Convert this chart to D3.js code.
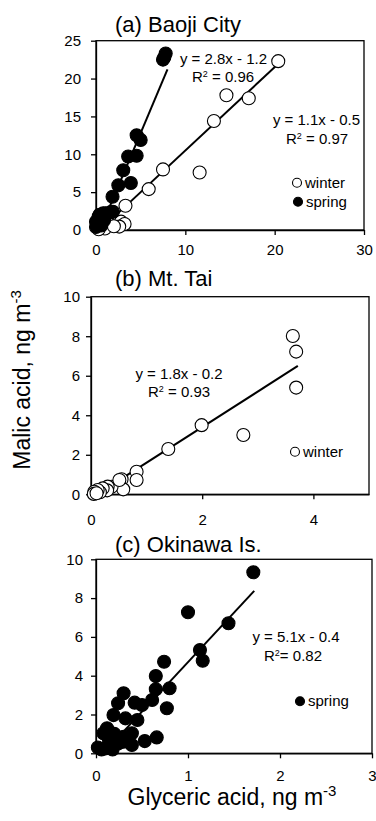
<!DOCTYPE html>
<meta charset="utf-8">
<style>
body { margin: 0; background: #fff; }
svg { font-family: "Liberation Sans", Arial, sans-serif; }
.axis path, .axis line { stroke: #000; stroke-width: 1.3; }
.axis text { font-size: 15px; fill: #000; }
.frame { fill: none; stroke: #000; stroke-width: 1.3; }
.title { font-size: 22px; }
.note { font-size: 15px; }
.fit { stroke: #000; stroke-width: 2; }
</style>
<div id="chart"></div>
<script src="https://d3js.org/d3.v7.min.js"></script>
<script>
// data, [glyceric, malic]
var baojiWinter = [[20.4,22.3],[14.6,17.8],[17.1,17.4],[13.2,14.4],[7.5,8.0],[11.6,7.6],
  [5.9,5.4],[3.3,3.2],[1.7,1.1],[2.2,1.1],[2.8,1.1],[3.2,0.8],[2.6,0.45],[1.2,1.3],
  [0.8,0.6],[1.5,0.7],[0.5,0.3],[1.0,0.2],[2.0,0.5],[0.3,0.1]];
var baojiSpring = [[7.8,23.3],[7.65,22.8],[7.5,22.5],[4.55,12.5],[5.0,11.9],[3.6,9.7],
  [4.55,9.8],[3.05,7.9],[2.5,5.9],[3.9,6.2],[1.85,4.4],[1.9,2.4],[1.7,2.4],[1.1,2.2],
  [0.8,2.2],[0.4,2.0],[0.3,1.8],[0.9,1.3],[0.0,1.1],[0.6,0.6],[0.0,0.4],[0.2,0.7]];
var taiWinter = [[3.63,8.01],[3.69,7.22],[3.69,5.4],[2.74,3.0],[1.99,3.5],[1.39,2.29],
  [0.82,1.14],[0.82,0.72],[0.55,0.76],[0.58,0.25],[0.37,0.38],[0.51,0.72],[0.3,0.39],
  [0.29,0.2],[0.21,0.3],[0.16,0.1],[0.12,0.22],[0.06,0.13],[0.05,0.02],[0.1,0.05]];
var okinawaSpring = [[1.71,9.33],[1.0,7.27],[1.44,6.7],[1.13,5.32],[1.16,4.77],[0.74,4.72],
  [0.65,3.98],[0.65,3.3],[0.80,3.35],[0.61,2.75],[0.77,2.32],[0.30,3.09],[0.24,2.58],
  [0.42,2.61],[0.50,2.49],[0.19,1.97],[0.32,1.8],[0.45,1.72],[0.12,1.29],[0.08,1.03],
  [0.2,1.0],[0.3,0.85],[0.39,1.03],[0.66,0.82],[0.53,0.63],[0.39,0.43],[0.02,0.3],
  [0.1,0.25],[0.18,0.2],[0.24,0.5],[0.3,0.6],[0.14,0.7],[0.06,0.2]];

// fits: slope, intercept, x from, x to
var baojiWinterFit = [1.1, -0.5, 0.5, 20.5];
var baojiSpringFit = [2.8, -1.2, 0.6, 8.0];
var taiFit = [1.8, -0.2, 0.1, 3.72];
var okinawaFit = [5.1, -0.4, 0.25, 1.72];

var baojiXTicks = [0, 10, 20, 30], baojiYTicks = [0, 5, 10, 15, 20, 25];
var taiXTicks = [0, 2, 4], taiYTicks = [0, 2, 4, 6, 8, 10];
var okinawaXTicks = [0, 1, 2, 3], okinawaYTicks = [0, 2, 4, 6, 8, 10];

var svg = d3.select("#chart").append("svg").attr("width", 376).attr("height", 821);
var fmt = d3.format("d");

function panel(p) {
  var x = d3.scaleLinear().domain(p.xd).range([p.l, p.r]);
  var y = d3.scaleLinear().domain(p.yd).range([p.b, p.t]);
  var g = svg.append("g");

  g.append("rect").attr("class", "frame")
    .attr("x", p.l).attr("y", p.t).attr("width", p.r - p.l).attr("height", p.b - p.t);

  g.append("g").attr("class", "axis").attr("transform", "translate(0," + p.b + ")")
    .call(d3.axisBottom(x).tickValues(p.xt).tickFormat(fmt).tickSize(5).tickPadding(p.xpad).tickSizeOuter(0));
  g.append("g").attr("class", "axis").attr("transform", "translate(" + p.l + ",0)")
    .call(d3.axisLeft(y).tickValues(p.yt).tickFormat(fmt).tickSize(5).tickPadding(p.ypad).tickSizeOuter(0));

  p.fits.forEach(function(f) {
    g.append("line").attr("class", "fit")
      .attr("x1", x(f[2])).attr("y1", y(f[0] * f[2] + f[1]))
      .attr("x2", x(f[3])).attr("y2", y(f[0] * f[3] + f[1]));
  });

  p.series.forEach(function(s) {
    g.append("g").selectAll("circle").data(s.data).join("circle")
      .attr("cx", d => x(d[0])).attr("cy", d => y(d[1])).attr("r", 6.5)
      .attr("fill", s.filled ? "#000" : "#fff").attr("stroke", "#000").attr("stroke-width", 1.1);
  });

  g.append("text").attr("class", "title").attr("x", 115).attr("y", p.titleY).text(p.title);

  p.notes.forEach(function(n) {
    var t = g.append("text").attr("class", "note").attr("text-anchor", "middle")
      .attr("x", p.l + n[0]).attr("y", p.t + n[1]);
    if (n[3]) {
      t.append("tspan").text("R");
      t.append("tspan").attr("dy", -5).attr("font-size", 9).text("2");
      t.append("tspan").attr("dy", 5).text(n[2]);
    } else t.text(n[2]);
  });

  p.legend.forEach(function(lg) {
    g.append("circle").attr("cx", p.l + lg[0]).attr("cy", p.t + lg[1]).attr("r", 4.5)
      .attr("fill", lg[3] ? "#000" : "#fff").attr("stroke", "#000").attr("stroke-width", 1.1);
    g.append("text").attr("class", "note").attr("x", p.l + lg[0] + 8).attr("y", p.t + lg[1] + 5).text(lg[2]);
  });
}

panel({
  l: 96, r: 364, t: 40.7, b: 230, xd: [0, 30], yd: [0, 25], xt: baojiXTicks, yt: baojiYTicks,
  xpad: 9, ypad: 10, title: "(a) Baoji City", titleY: 31.5,
  fits: [baojiWinterFit, baojiSpringFit],
  series: [{data: baojiWinter, filled: false}, {data: baojiSpring, filled: true}],
  notes: [[127.5, 23, "y = 2.8x - 1.2"], [127, 41, " = 0.96", true],
          [220.5, 84, "y = 1.1x - 0.5"], [221, 103, " = 0.97", true]],
  legend: [[201, 142, "winter", false], [202, 161, "spring", true]]
});

panel({
  l: 91, r: 369, t: 296.7, b: 494.3, xd: [0, 5], yd: [0, 10], xt: taiXTicks, yt: taiYTicks,
  xpad: 15, ypad: 6, title: "(b) Mt. Tai", titleY: 286,
  fits: [taiFit],
  series: [{data: taiWinter, filled: false}],
  notes: [[88, 82, "y = 1.8x - 0.2"], [88, 100, " = 0.93", true]],
  legend: [[204, 155, "winter", false]]
});

panel({
  l: 96, r: 372, t: 559.3, b: 753.3, xd: [0, 3], yd: [0, 10], xt: okinawaXTicks, yt: okinawaYTicks,
  xpad: 12, ypad: 8, title: "(c) Okinawa Is.", titleY: 551.5,
  fits: [okinawaFit],
  series: [{data: okinawaSpring, filled: true}],
  notes: [[200, 83, "y = 5.1x - 0.4"], [197, 102, "= 0.82", true]],
  legend: [[204, 142, "spring", true]]
});

// axis titles
var yl = svg.append("text").attr("transform", "translate(30,380) rotate(-90)")
  .attr("text-anchor", "middle").attr("font-size", 23);
yl.append("tspan").text("Malic acid, ng m");
yl.append("tspan").attr("dy", -9).attr("font-size", 15).text("-3");

var xl = svg.append("text").attr("x", 232).attr("y", 805)
  .attr("text-anchor", "middle").attr("font-size", 23);
xl.append("tspan").text("Glyceric acid, ng m");
xl.append("tspan").attr("dy", -9).attr("font-size", 15).text("-3");
</script>
